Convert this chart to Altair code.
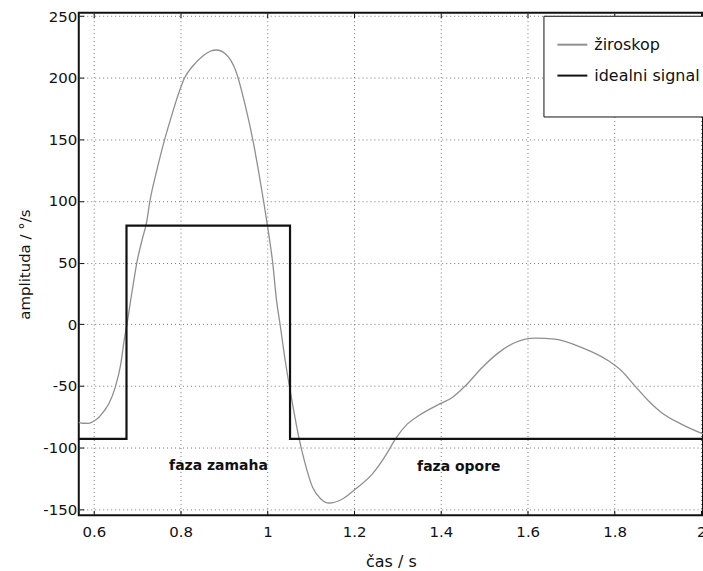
import altair as alt
import pandas as pd

# Gyroscope signal (time in s, amplitude in deg/s)
gyro_t = [0.565, 0.575, 0.588, 0.600, 0.611, 0.623, 0.634, 0.649, 0.662, 0.670,
          0.676, 0.688, 0.700, 0.712, 0.721, 0.729, 0.745, 0.763, 0.778, 0.793,
          0.809, 0.828, 0.851, 0.868, 0.882, 0.904, 0.927, 0.950, 0.966, 0.979,
          0.991, 1.000, 1.012, 1.021, 1.029, 1.041, 1.051, 1.062, 1.073, 1.085,
          1.104, 1.123, 1.142, 1.173, 1.203, 1.242, 1.275, 1.295, 1.322, 1.349,
          1.395, 1.426, 1.456, 1.495, 1.533, 1.571, 1.617, 1.663, 1.724, 1.786,
          1.816, 1.847, 1.878, 1.908, 1.954, 2.004]
gyro_v = [-79.5, -80.3, -80.4, -78.5, -75.6, -70.5, -64.7, -51.2, -32.0, -12.0,
          0.0, 27.0, 52.0, 70.0, 82.0, 100.0, 125.0, 150.0, 168.0, 185.0,
          200.0, 209.5, 217.6, 221.5, 222.5, 219.0, 205.5, 175.7, 150.0, 125.0,
          100.0, 80.0, 50.0, 19.0, 0.0, -29.6, -51.2, -72.8, -93.0, -110.6,
          -132.3, -141.7, -145.0, -141.7, -133.6, -121.4, -105.0, -93.0, -81.0, -74.0,
          -65.0, -59.4, -50.0, -35.0, -23.0, -14.8, -11.2, -12.0, -18.8, -29.6,
          -37.7, -50.0, -62.0, -71.5, -81.0, -89.0]

# Ideal (step) signal: breakpoints
ideal_t = [0.565, 0.675, 1.052, 2.004]
ideal_v = [-93.0, 80.0, -93.0, -93.0]

# Phase annotations
note_text = ["faza zamaha", "faza opore"]
note_t = [0.887, 1.441]
note_v = [-114.7, -116.0]

series_names = ["žiroskop", "idealni signal"]
series_colors = ["#8f8f8f", "#111111"]

x_ticks = [0.6, 0.8, 1.0, 1.2, 1.4, 1.6, 1.8, 2.0]
y_ticks = [-150, -100, -50, 0, 50, 100, 150, 200, 250]

gyro_df = pd.DataFrame({"t": gyro_t, "v": gyro_v, "s": series_names[0]})
ideal_df = pd.DataFrame({"t": ideal_t, "v": ideal_v, "s": series_names[1]})
note_df = pd.DataFrame({"t": note_t, "v": note_v, "txt": note_text})

FONT = "DejaVu Sans"
x_scale = alt.Scale(domain=[0.565, 2.004], nice=False, zero=False)
y_scale = alt.Scale(domain=[-155.0, 252.7], nice=False, zero=False)

color = alt.Color(
    "s:N",
    scale=alt.Scale(domain=series_names, range=series_colors),
    legend=alt.Legend(
        title="\u00a0", titleOrient="bottom", titleFontSize=12, titlePadding=9,
        orient="none", legendX=466, legendY=3,
        symbolType="stroke", symbolSize=900, symbolStrokeWidth=2,
        labelFontSize=16, labelFont=FONT, labelColor="#111", labelOffset=6,
        padding=13, rowPadding=7,
        strokeColor="#111", fillColor="white",
    ),
)

x_main = alt.X(
    "t:Q", scale=x_scale, title="čas / s",
    axis=alt.Axis(values=x_ticks, format=".2~f", orient="bottom", offset=-5,
                  tickSize=5, tickColor="#111", domain=False,
                  labelPadding=9, labelFontSize=15, labelColor="#111",
                  titleFontSize=16, titleFontWeight="normal", titleColor="#111",
                  titlePadding=14,
                  grid=True, gridDash=[1, 3], gridColor="#777", gridWidth=1),
)
y_axis = alt.Axis(values=y_ticks, orient="left", offset=-5, tickSize=5,
                  tickColor="#111", domain=False, labelPadding=2,
                  labelExpr="datum.value + ''",
                  labelFontSize=15, labelColor="#111",
                  titleFontSize=15, titleFontWeight="normal", titleColor="#111",
                  titlePadding=10,
                  grid=True, gridDash=[1, 3], gridColor="#777", gridWidth=1)
y_title = "amplituda / °/s"

gyro = alt.Chart(gyro_df).mark_line(strokeWidth=1.3, interpolate="monotone").encode(
    x=x_main, y=alt.Y("v:Q", scale=y_scale, title=y_title, axis=y_axis), color=color
)
ideal = alt.Chart(ideal_df).mark_line(strokeWidth=2.2, interpolate="step-after").encode(
    x=alt.X("t:Q", scale=x_scale, axis=None),
    y=alt.Y("v:Q", scale=y_scale, title=y_title, axis=y_axis),
    color=color,
)
notes = alt.Chart(note_df).mark_text(
    font=FONT, fontSize=14, fontWeight="bold", color="#111", baseline="middle"
).encode(
    x=alt.X("t:Q", scale=x_scale, title=None,
            axis=alt.Axis(values=x_ticks, orient="top", offset=-5, tickSize=5,
                          tickColor="#111", domain=False, labels=False,
                          grid=False, title=None)),
    y=alt.Y("v:Q", scale=y_scale, title=y_title, axis=y_axis),
    text="txt:N",
)

chart = (
    alt.layer(gyro, ideal, notes)
    .resolve_axis(x="independent")
    .properties(
        width=626, height=504,
        autosize=alt.AutoSizeParams(type="none"),
        padding={"left": 79, "top": 12, "right": 0, "bottom": 55},
        background="white",
    )
    .configure(font=FONT)
    .configure_view(stroke="#111", strokeWidth=2)
)

chart.save("out.html", embed_options={"renderer": "svg", "actions": False})
